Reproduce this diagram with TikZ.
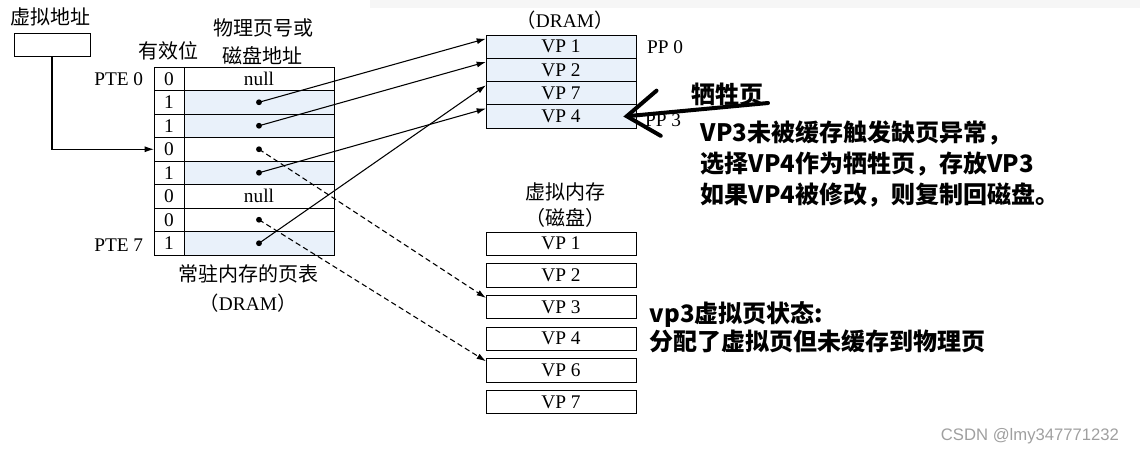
\documentclass[tikz,border=0pt]{standalone}
\usepackage{fontspec}
\setmainfont{Liberation Serif}
\newfontfamily\cjk{Noto Sans CJK SC}
\newfontfamily\wmfont{Liberation Sans}
\usetikzlibrary{arrows.meta,calc}
\definecolor{pteblue}{HTML}{E9F1FA}

\begin{document}
\begin{tikzpicture}[x=0.75pt,y=-0.75pt,line width=0.6pt,
  font=\fontsize{14.5}{16}\selectfont,
  cell/.style={draw,minimum height=17.5pt,inner sep=0pt,outer sep=0pt},
  zh/.style={font=\cjk\fontsize{15}{17}\selectfont},
  note/.style={font=\cjk\bfseries\fontsize{18}{23}\selectfont,align=left},
  link/.style={line width=0.8pt,-{Latex[length=7pt,width=4.5pt]}},
  swap/.style={dash pattern=on 4pt off 2.5pt}]
\useasboundingbox (0,0) rectangle (1140,455);
\fill[gray!7] (370,0) rectangle (1140,8);
% page table
\foreach \V/\X/\C [count=\Y from 0] in
{0/null/white,1//pteblue,1//pteblue,0//white,1//pteblue,0/null/white,0//white,1//pteblue}
  {\node[cell,minimum width=22.5pt] (B-\Y) at (169,78.75+23.5*\Y) {\V};
  \node[cell,minimum width=112.5pt,fill=\C,anchor=west] (E-\Y) at (B-\Y.east) {\X};}
\foreach \Y in {1,2,3,4,6,7}
  \fill (E-\Y.center) circle (2.2pt);
\node[zh] (va) at (51,17) {虚拟地址};
\node[draw,minimum width=57pt,minimum height=17.25pt] (A) at (52,44.5) {};
\node[zh] (vb) at (168,51) {有效位};
\node[zh] (pa) at (263,28) {物理页号或};
\node[zh] (pb) at (262,56) {磁盘地址};
\node[anchor=east] (p0) at (148,79) {PTE 0};
\node[anchor=east] (p7) at (148,245) {PTE 7};
\node[zh] (pt) at (248,274) {常驻内存的页表};
\node (pd) at (248,303) {{\cjk （}DRAM{\cjk ）}};
% physical memory
\node (md) at (565,20) {{\cjk （}DRAM{\cjk ）}};
\foreach \X [count=\Y] in {1,2,7,4}
  \node[cell,fill=pteblue,minimum width=112.5pt] (M-\Y) at (561,23.35+23.3*\Y) {VP \X};
\node (pp0) at (665,47) {PP 0};
\node (pp3) at (663,120) {PP 3};
% disk
\node[zh] (vm) at (565,192) {虚拟内存};
\node[zh] (vd) at (565,218) {（磁盘）};
\foreach \X [count=\Y] in {1,2,3,4,6,7}
  \node[cell,minimum width=112.5pt] (K-\Y) at (561,212+31.65*\Y) {VP \X};
% connectors
\draw[link] (A.south) |- (B-3.west);
\draw[link] (E-1.center) -- ([yshift=6pt]M-1.west);
\draw[link] (E-2.center) -- ([yshift=6pt]M-2.west);
\draw[link] (E-4.center) -- ([yshift=6pt]M-4.west);
\draw[link] (E-7.center) -- ([yshift=6pt]M-3.west);
\draw[link,swap] (E-3.center) -- ([yshift=-2pt]K-3.north west);
\draw[link,swap] (E-6.center) -- ([yshift=-2pt]K-5.north west);
% notes
\node[note] (victim) at (727,94) {牺牲页};
\coordinate (vt) at (768,103);
\draw[line width=3pt,line cap=round,
  -{Straight Barb[length=24pt,width=34pt,line cap=round]}] (vt) -- ([xshift=-9.5pt]M-4.east);
\node[note,anchor=west] (why) at (696,164) {VP3未被缓存触发缺页异常，\\选择VP4作为牺牲页，存放VP3\\如果VP4被修改，则复制回磁盘。};
\node[note,anchor=west] (state) at (645,327) {vp3虚拟页状态:\\[-2pt]分配了虚拟页但未缓存到物理页};
\node[font=\wmfont\fontsize{12.5}{14}\selectfont,text=gray!75] (wm) at (1030,436) {CSDN @lmy347771232};
\end{tikzpicture}
\end{document}
